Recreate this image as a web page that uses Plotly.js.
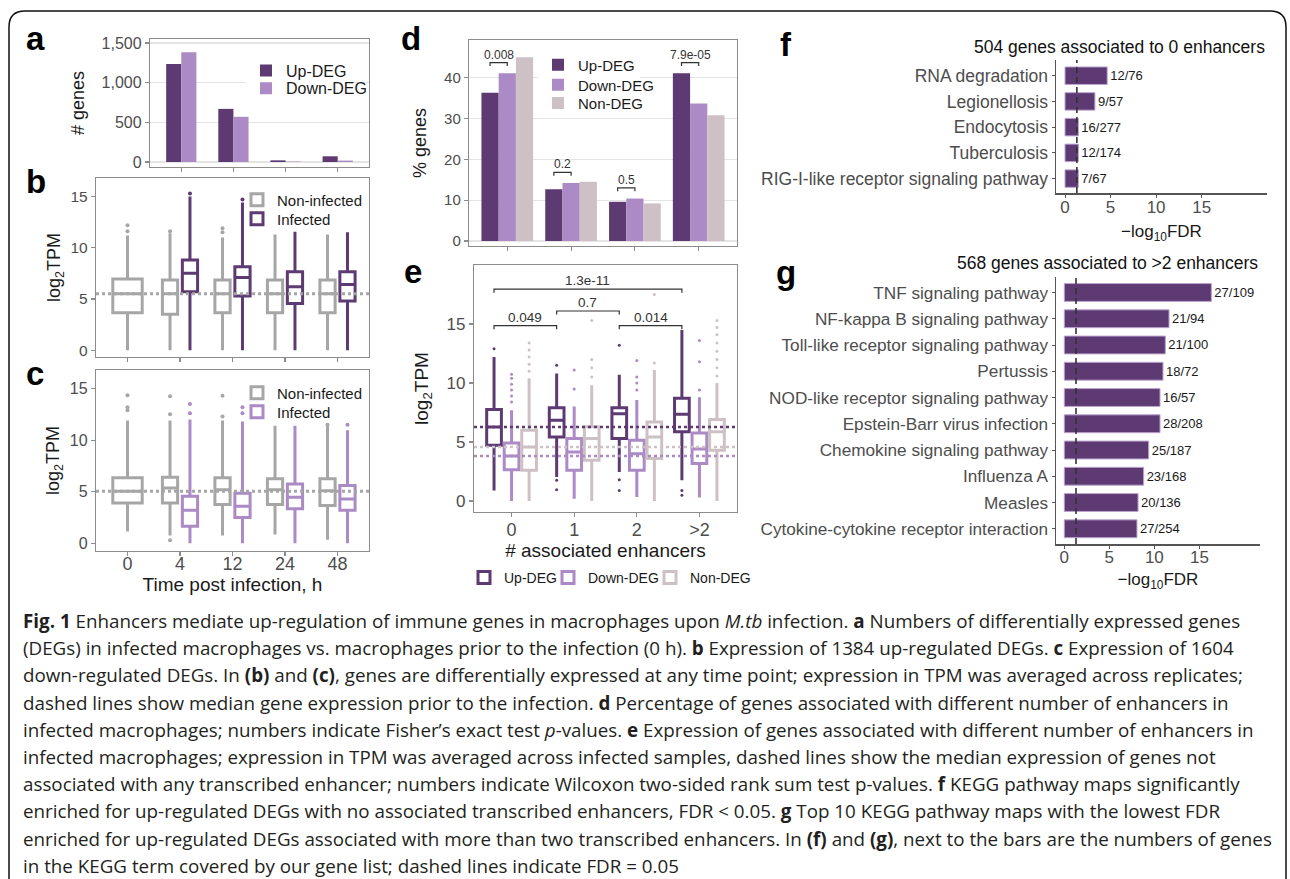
<!DOCTYPE html>
<html>
<head>
<meta charset="utf-8">
<script src="https://cdn.plot.ly/plotly-3.0.1.min.js"></script>
<style>html,body{margin:0;padding:0;background:#fff;}</style>
</head>
<body>
<div id="chart" style="width:1290px;height:879px;"></div>
<script>
// ---------------- DATA ----------------
// panel a: number of DEGs per time point (h)
const timeLabels = ['0', '4', '12', '24', '48'];
const degTimeLabels = ['4', '12', '24', '48'];
const upDegCounts = [1235, 670, 21, 72];
const downDegCounts = [1385, 570, 6, 18];

// panel b: expression (log2 TPM) of up-regulated DEGs
const bNonQ1 = [3.65, 3.5, 3.65, 3.65, 3.65];
const bNonMedian = [5.5, 5.5, 5.5, 5.5, 5.5];
const bNonQ3 = [6.95, 6.85, 6.85, 6.85, 6.85];
const bNonLow = [0, 0, 0, 0, 0];
const bNonHigh = [11.2, 11.4, 11.0, 11.3, 11.3];
const bNonOutliers = [[11.6, 12.2], [11.6], [11.5, 11.9], [], []];
const bInfQ1 = [5.7, 5.3, 4.55, 4.8];
const bInfMedian = [7.5, 7.1, 6.2, 6.4];
const bInfQ3 = [8.8, 8.15, 7.65, 7.65];
const bInfLow = [0, 0, 0, 0];
const bInfHigh = [15.0, 14.4, 11.55, 11.5];
const bInfOutliers = [[15.3], [14.7], [], []];

// panel c: expression (log2 TPM) of down-regulated DEGs
const cNonQ1 = [3.9, 3.9, 3.75, 3.75, 3.65];
const cNonMedian = [5.05, 5.35, 5.2, 5.2, 5.1];
const cNonQ3 = [6.35, 6.4, 6.35, 6.25, 6.25];
const cNonLow = [1.15, 0.75, 0.75, 0.85, 0.35];
const cNonHigh = [11.9, 11.9, 11.9, 11.4, 11.4];
const cNonOutliers = [[12.9, 13.2, 14.35], [12.5, 14.25, 0.3], [12.3, 14.3], [], [11.5]];
const cInfQ1 = [1.65, 2.5, 3.35, 3.2];
const cInfMedian = [3.2, 3.6, 4.45, 4.3];
const cInfQ3 = [4.55, 4.85, 5.75, 5.6];
const cInfLow = [0, 0, 0, 0];
const cInfHigh = [12.0, 11.8, 11.4, 10.95];
const cInfOutliers = [[12.6, 13.5], [12.6, 13.2], [], [11.5]];

// panel d: % genes by number of associated enhancers
const enhancerCats = ['0', '1', '2', '>2'];
const dUp = [36.3, 12.7, 9.6, 41.1];
const dDown = [41.1, 14.2, 10.4, 33.7];
const dNon = [45.0, 14.5, 9.2, 30.8];
const dPvals = ['0.008', '0.2', '0.5', '7.9e-05'];

// panel e: expression by number of associated enhancers
const eUpQ1 = [4.73, 5.43, 5.3, 5.86];
const eUpMedian = [6.28, 6.85, 7.4, 7.35];
const eUpQ3 = [7.75, 7.9, 7.9, 8.7];
const eUpLow = [0.9, 2.04, 2.46, 1.75];
const eUpHigh = [12.2, 10.8, 10.7, 14.5];
const eUpOutliers = [[12.9], [1.75, 0.96, 11.5], [13.2, 1.8, 0.9], [0.48, 0.9]];
const eDownQ1 = [2.66, 2.6, 2.6, 3.17];
const eDownMedian = [3.82, 4.15, 4.0, 4.4];
const eDownQ3 = [4.92, 5.3, 5.15, 5.77];
const eDownLow = [0, 0.2, 0.34, 0.3];
const eDownHigh = [7.7, 8.0, 8.55, 8.8];
const eDownOutliers = [[8.4, 8.9, 9.4, 9.9, 10.4, 10.75], [9.5, 11.1], [9.4, 10.0, 10.5, 11.9], [9.4, 11.8, 13.6]];
const eNonQ1 = [2.6, 3.45, 3.6, 4.3];
const eNonMedian = [4.58, 5.3, 5.43, 5.86];
const eNonQ3 = [6.0, 6.3, 6.7, 6.9];
const eNonLow = [0, 0, 0, 0];
const eNonHigh = [10.4, 9.8, 11.1, 10.0];
const eNonOutliers = [[11.0, 11.6, 12.2, 12.8, 13.4], [10.5, 11.3, 12.0, 15.3], [11.7, 17.5], [10.6, 11.3, 12.0, 12.7, 13.4, 14.1, 14.7, 15.3]];
const ePvalFrom = [0, 1, 2, 0];
const ePvalTo = [1, 2, 3, 3];
const ePvals = ['0.049', '0.7', '0.014', '1.3e-11'];

// panel f / g: KEGG enrichment
const fdrThreshold = 0.05;
const fTerms = ['RNA degradation', 'Legionellosis', 'Endocytosis', 'Tuberculosis', 'RIG-I-like receptor signaling pathway'];
const fScore = [4.63, 3.28, 1.46, 1.46, 1.46];
const fCounts = ['12/76', '9/57', '16/277', '12/174', '7/67'];
const gTerms = ['TNF signaling pathway', 'NF-kappa B signaling pathway', 'Toll-like receptor signaling pathway', 'Pertussis',
  'NOD-like receptor signaling pathway', 'Epstein-Barr virus infection', 'Chemokine signaling pathway', 'Influenza A',
  'Measles', 'Cytokine-cytokine receptor interaction'];
const gScore = [16.33, 11.63, 11.22, 10.96, 10.63, 10.63, 9.37, 8.81, 8.19, 8.07];
const gCounts = ['27/109', '21/94', '21/100', '18/72', '16/57', '28/208', '25/187', '23/168', '20/136', '27/254'];

const captionLines = [
  '<b>Fig. 1</b> Enhancers mediate up-regulation of immune genes in macrophages upon <i>M.tb</i> infection. <b>a</b> Numbers of differentially expressed genes',
  '(DEGs) in infected macrophages vs. macrophages prior to the infection (0 h). <b>b</b> Expression of 1384 up-regulated DEGs. <b>c</b> Expression of 1604',
  'down-regulated DEGs. In <b>(b)</b> and <b>(c)</b>, genes are differentially expressed at any time point; expression in TPM was averaged across replicates;',
  'dashed lines show median gene expression prior to the infection. <b>d</b> Percentage of genes associated with different number of enhancers in',
  'infected macrophages; numbers indicate Fisher’s exact test <i>p</i>-values. <b>e</b> Expression of genes associated with different number of enhancers in',
  'infected macrophages; expression in TPM was averaged across infected samples, dashed lines show the median expression of genes not',
  'associated with any transcribed enhancer; numbers indicate Wilcoxon two-sided rank sum test p-values. <b>f</b> KEGG pathway maps significantly',
  'enriched for up-regulated DEGs with no associated transcribed enhancers, FDR &lt; 0.05. <b>g</b> Top 10 KEGG pathway maps with the lowest FDR',
  'enriched for up-regulated DEGs associated with more than two transcribed enhancers. In <b>(f)</b> and <b>(g)</b>, next to the bars are the numbers of genes',
  'in the KEGG term covered by our gene list; dashed lines indicate FDR = 0.05'
];

// ---------------- STYLE / LAYOUT HELPERS ----------------
const W = 1290, H = 879;
const X = v => v / W;
const Y = v => 1 - v / H;
const FONT = 'Liberation Sans, Arial, Helvetica, sans-serif';
const CAPFONT = 'Open Sans, Noto Sans, sans-serif';
const upCol = '#5e3a73', downCol = '#ab8ac5', nonDegCol = '#cdc1c5', greyCol = '#a6a6a6';
const tickCol = '#4d4d4d', titleCol = '#1a1a1a', frameCol = '#8c8c8c';

const traces = [];

function boxTrace(pos, q1, med, q3, lo, hi, color, width, ax, extra) {
  return Object.assign({
    type: 'box', orientation: 'v', x: pos, q1: q1, median: med, q3: q3,
    lowerfence: lo, upperfence: hi, width: width, fillcolor: '#ffffff',
    line: { color: color, width: 3 }, whiskerwidth: 0, boxpoints: false,
    xaxis: 'x' + ax, yaxis: 'y' + ax, hoverinfo: 'skip', showlegend: false
  }, extra || {});
}
function outlierTrace(pos, lists, color, size, ax) {
  const xs = [], ys = [];
  lists.forEach((l, i) => l.forEach(v => { xs.push(pos[i]); ys.push(v); }));
  return { type: 'scatter', mode: 'markers', x: xs, y: ys, marker: { color: color, size: size },
    xaxis: 'x' + ax, yaxis: 'y' + ax, showlegend: false, hoverinfo: 'skip', cliponaxis: false };
}

// ---- a ----
const aPos = degTimeLabels.map((t, i) => i + 1);
traces.push({ type: 'bar', name: 'Up-DEG', x: aPos, y: upDegCounts, width: 0.29, offset: -0.29,
  marker: { color: upCol }, xaxis: 'x', yaxis: 'y', legend: 'legend', hoverinfo: 'skip' });
traces.push({ type: 'bar', name: 'Down-DEG', x: aPos, y: downDegCounts, width: 0.29, offset: 0,
  marker: { color: downCol }, xaxis: 'x', yaxis: 'y', legend: 'legend2', hoverinfo: 'skip' });

// ---- b & c ----
function timeBoxes(ax, nq1, nmed, nq3, nlo, nhi, nout, iq1, imed, iq3, ilo, ihi, iout, infCol, legA, legB) {
  const d = 0.19;
  const nonPos = timeLabels.map((t, i) => i === 0 ? 0 : i - d);
  const infPos = degTimeLabels.map((t, i) => i + 1 + d);
  traces.push(boxTrace([0], nq1.slice(0, 1), nmed.slice(0, 1), nq3.slice(0, 1), nlo.slice(0, 1), nhi.slice(0, 1), greyCol, 0.56, ax));
  traces.push(boxTrace(nonPos.slice(1), nq1.slice(1), nmed.slice(1), nq3.slice(1), nlo.slice(1), nhi.slice(1), greyCol, 0.29, ax,
    { name: 'Non-infected', showlegend: true, legend: legA }));
  traces.push(boxTrace(infPos, iq1, imed, iq3, ilo, ihi, infCol, 0.29, ax,
    { name: 'Infected', showlegend: true, legend: legB }));
  traces.push(outlierTrace(nonPos, nout, greyCol, 4, ax));
  traces.push(outlierTrace(infPos, iout, infCol, 4, ax));
}
timeBoxes('2', bNonQ1, bNonMedian, bNonQ3, bNonLow, bNonHigh, bNonOutliers, bInfQ1, bInfMedian, bInfQ3, bInfLow, bInfHigh, bInfOutliers, upCol, 'legend3', 'legend4');
timeBoxes('3', cNonQ1, cNonMedian, cNonQ3, cNonLow, cNonHigh, cNonOutliers, cInfQ1, cInfMedian, cInfQ3, cInfLow, cInfHigh, cInfOutliers, downCol, 'legend5', 'legend6');

// ---- d ----
const dPos = enhancerCats.map((c, i) => i);
[[dUp, upCol, 'Up-DEG', -0.405, 'legend7'], [dDown, downCol, 'Down-DEG', -0.135, 'legend8'], [dNon, nonDegCol, 'Non-DEG', 0.135, 'legend9']]
  .forEach(s => traces.push({ type: 'bar', name: s[2], x: dPos, y: s[0], width: 0.27, offset: s[3],
    marker: { color: s[1] }, xaxis: 'x4', yaxis: 'y4', legend: s[4], hoverinfo: 'skip' }));

// ---- e ----
const eOff = 0.28;
const eSets = [
  [eUpQ1, eUpMedian, eUpQ3, eUpLow, eUpHigh, eUpOutliers, upCol, 'Up-DEG', -eOff, 'legend10'],
  [eDownQ1, eDownMedian, eDownQ3, eDownLow, eDownHigh, eDownOutliers, downCol, 'Down-DEG', 0, 'legend11'],
  [eNonQ1, eNonMedian, eNonQ3, eNonLow, eNonHigh, eNonOutliers, nonDegCol, 'Non-DEG', eOff, 'legend12']
];
eSets.forEach(s => {
  const pos = enhancerCats.map((c, i) => i + s[8]);
  traces.push(boxTrace(pos, s[0], s[1], s[2], s[3], s[4], s[6], 0.235, '5', { name: s[7], showlegend: true, legend: s[9] }));
  traces.push(outlierTrace(pos, s[5], s[6], 3, '5'));
});

// ---- f & g ----
[[fTerms, fScore, fCounts, '6'], [gTerms, gScore, gCounts, '7']].forEach(s => traces.push({
  type: 'bar', orientation: 'h', y: s[0], x: s[1], text: s[2], textposition: 'outside', constraintext: 'none',
  textfont: { family: FONT, size: 13, color: titleCol }, cliponaxis: false, width: 0.68,
  marker: { color: upCol, line: { color: '#bba4cf', width: 1 } }, xaxis: 'x' + s[3], yaxis: 'y' + s[3],
  showlegend: false, hoverinfo: 'skip'
}));

// ---------------- AXES ----------------
function framed(extra) {
  return Object.assign({ showline: true, mirror: true, linecolor: frameCol, linewidth: 1.2, ticks: 'outside', ticklen: 4,
    tickwidth: 1.1, tickcolor: frameCol, showgrid: false, zeroline: false, fixedrange: true,
    tickfont: { family: FONT, size: 15, color: tickCol } }, extra);
}
function classic(extra) {
  return Object.assign({ showline: true, mirror: false, linecolor: '#555555', linewidth: 1.5, ticks: 'outside', ticklen: 3,
    tickwidth: 1, tickcolor: '#555555', showgrid: false, zeroline: false, fixedrange: true,
    tickfont: { family: FONT, size: 17, color: tickCol } }, extra);
}
const ttl = (text, size, standoff) => ({ text: text, font: { family: FONT, size: size, color: titleCol }, standoff: standoff });

const layout = {
  width: W, height: H, autosize: false, margin: { l: 0, r: 0, t: 0, b: 0, pad: 0 },
  paper_bgcolor: '#ffffff', plot_bgcolor: '#ffffff', font: { family: FONT, color: tickCol },
  barmode: 'overlay', boxmode: 'overlay', hovermode: false, showlegend: true,
  // a
  xaxis: framed({ domain: [X(150), X(369)], range: [0.4, 4.6], tickvals: aPos, showticklabels: false, anchor: 'y' }),
  yaxis: framed({ domain: [Y(167), Y(39)], range: [-63, 1551], tickvals: [0, 500, 1000, 1500], tickformat: ',',
    showgrid: true, gridcolor: '#e4e4e4', gridwidth: 1.2, tickfont: { family: FONT, size: 16, color: tickCol },
    title: ttl('# genes', 18, 12), anchor: 'x' }),
  // b
  xaxis2: framed({ domain: [X(96), X(369)], range: [-0.6, 4.6], tickvals: [0, 1, 2, 3, 4], showticklabels: false, anchor: 'y2' }),
  yaxis2: framed({ domain: [Y(357), Y(178)], range: [-0.66, 16.8], tickvals: [0, 5, 10, 15],
    tickfont: { family: FONT, size: 15.5, color: tickCol }, title: ttl('log<sub>2</sub>TPM', 18, 5), anchor: 'x2' }),
  // c
  xaxis3: framed({ domain: [X(96), X(369)], range: [-0.6, 4.6], tickvals: [0, 1, 2, 3, 4], ticktext: timeLabels,
    ticklabelstandoff: -8, tickfont: { family: FONT, size: 18, color: tickCol },
    title: ttl('Time post infection, h', 19, 0), anchor: 'y3' }),
  yaxis3: framed({ domain: [Y(551), Y(370)], range: [-0.75, 16.8], tickvals: [0, 5, 10, 15],
    tickfont: { family: FONT, size: 16, color: tickCol }, title: ttl('log<sub>2</sub>TPM', 18, 5), anchor: 'x3' }),
  // d
  xaxis4: framed({ domain: [X(469), X(737)], range: [-0.6, 3.6], tickvals: dPos, showticklabels: false, anchor: 'y4' }),
  yaxis4: framed({ domain: [Y(246), Y(40)], range: [-1.23, 49.25], tickvals: [0, 10, 20, 30, 40],
    showgrid: true, gridcolor: '#e4e4e4', gridwidth: 1.2, title: ttl('% genes', 18, 12), anchor: 'x4' }),
  // e
  xaxis5: framed({ domain: [X(474), X(737)], range: [-0.6, 3.6], tickvals: dPos, ticktext: enhancerCats,
    ticklabelstandoff: -3, tickfont: { family: FONT, size: 18, color: tickCol },
    title: ttl('# associated enhancers', 19, 0), anchor: 'y5' }),
  yaxis5: framed({ domain: [Y(512), Y(265)], range: [-0.93, 20], tickvals: [0, 5, 10, 15],
    tickfont: { family: FONT, size: 17, color: tickCol }, title: ttl('log<sub>2</sub>TPM', 19, 12), anchor: 'x5' }),
  // f
  xaxis6: classic({ domain: [X(1056), X(1267)], range: [-0.99, 22.17], tickvals: [0, 5, 10, 15], ticklabelstandoff: -5,
    title: ttl('\u2212log<sub>10</sub>FDR', 17, 9), anchor: 'y6' }),
  yaxis6: classic({ domain: [Y(193), Y(60)], type: 'category', range: [4.56, -0.61],
    tickfont: { family: FONT, size: 17.5, color: tickCol }, anchor: 'x6' }),
  // g
  xaxis7: classic({ domain: [X(1056), X(1260)], range: [-0.92, 21.73], tickvals: [0, 5, 10, 15], ticklabelstandoff: -6,
    title: ttl('\u2212log<sub>10</sub>FDR', 17, 7), anchor: 'y7' }),
  yaxis7: classic({ domain: [Y(544), Y(277)], type: 'category', range: [9.58, -0.59],
    tickfont: { family: FONT, size: 17.2, color: tickCol }, anchor: 'x7' })
};

function leg(xpx, ypx, size, bg) {
  return { x: X(xpx), y: Y(ypx), xanchor: 'left', yanchor: 'middle', orientation: 'v',
    bgcolor: bg || 'rgba(0,0,0,0)', borderwidth: 0, font: { family: FONT, size: size, color: titleCol },
    itemclick: false, itemdoubleclick: false };
}
layout.legend = leg(246, 70.7, 16, '#ffffff');
layout.legend2 = leg(246, 88.3, 16);
layout.legend3 = leg(237, 200, 15);
layout.legend4 = leg(237, 219, 15);
layout.legend5 = leg(237, 393, 15);
layout.legend6 = leg(237, 412, 15);
layout.legend7 = leg(538, 65, 15, '#ffffff');
layout.legend8 = leg(538, 85, 15);
layout.legend9 = leg(538, 103.3, 15);
layout.legend10 = leg(464, 578, 14);
layout.legend11 = leg(548, 578, 14);
layout.legend12 = leg(650, 578, 14);

// ---------------- SHAPES ----------------
const shapes = [];
// outer figure frame
shapes.push({ type: 'path', xref: 'paper', yref: 'paper', layer: 'above',
  path: `M ${X(9)},${Y(900)} L ${X(9)},${Y(27)} Q ${X(9)},${Y(11)} ${X(25)},${Y(11)} L ${X(1270)},${Y(11)} Q ${X(1286)},${Y(11)} ${X(1286)},${Y(27)} L ${X(1286)},${Y(900)}`,
  line: { color: '#111111', width: 1.5 } });
// median reference lines (b, c)
const hline = (ax, y, color, width, dash) => ({ type: 'line', xref: 'x' + ax + ' domain', x0: 0, x1: 1, yref: 'y' + ax, y0: y, y1: y,
  line: { color: color, width: width, dash: dash }, layer: 'above' });
shapes.push(hline('2', bNonMedian[0], greyCol, 3, '3px,3px'));
shapes.push(hline('3', cNonMedian[0], greyCol, 3, '3px,3px'));
// e: medians of genes without enhancers
shapes.push(hline('5', eUpMedian[0], upCol, 2.5, '3px,3px'));
shapes.push(hline('5', eNonMedian[0], nonDegCol, 2.5, '3px,3px'));
shapes.push(hline('5', eDownMedian[0], downCol, 2.5, '3px,3px'));
// f, g FDR threshold
const thr = -Math.log10(fdrThreshold);
['6', '7'].forEach(ax => shapes.push({ type: 'line', xref: 'x' + ax, x0: thr, x1: thr, yref: 'y' + ax + ' domain', y0: 0, y1: 1,
  line: { color: '#333333', width: 1.6, dash: '6px,4px' }, layer: 'above' }));

const annotations = [];
// d brackets
dPvals.forEach((p, i) => {
  const x0 = i - 0.27, x1 = i, y = Math.max(dUp[i], dDown[i]) + 2.6, t = 0.8;
  shapes.push({ type: 'path', xref: 'x4', yref: 'y4', path: `M ${x0},${y - t} L ${x0},${y} L ${x1},${y} L ${x1},${y - t}`,
    line: { color: '#333333', width: 1.2 } });
  annotations.push({ xref: 'x4', yref: 'y4', x: (x0 + x1) / 2, y: y, yanchor: 'bottom', text: p, showarrow: false,
    font: { family: FONT, size: 12, color: '#333333' }, yshift: -1 });
});
// e brackets
const eBracketY = [14.86, 16.1, 14.86, 17.95];
ePvals.forEach((p, i) => {
  const x0 = ePvalFrom[i] - eOff, x1 = ePvalTo[i] - eOff, y = eBracketY[i], t = 0.3;
  shapes.push({ type: 'path', xref: 'x5', yref: 'y5', path: `M ${x0},${y - t} L ${x0},${y} L ${x1},${y} L ${x1},${y - t}`,
    line: { color: '#333333', width: 1.2 } });
  annotations.push({ xref: 'x5', yref: 'y5', x: (x0 + x1) / 2, y: y, yanchor: 'bottom', text: p, showarrow: false,
    font: { family: FONT, size: 13.5, color: '#333333' }, yshift: -1 });
});

// panel letters
[['a', 35, 39], ['b', 36, 181], ['c', 35, 374], ['d', 411, 38], ['e', 413, 271], ['f', 786, 45], ['g', 786, 273]]
  .forEach(l => annotations.push({ xref: 'paper', yref: 'paper', x: X(l[1]), y: Y(l[2]), xanchor: 'center', yanchor: 'middle',
    text: '<b>' + l[0] + '</b>', showarrow: false, font: { family: FONT, size: 33, color: '#000000' } }));

// f, g titles
annotations.push({ xref: 'paper', yref: 'paper', x: X(1267), y: Y(46.7), xanchor: 'right', yanchor: 'middle', showarrow: false,
  text: '504 genes associated to 0 enhancers', font: { family: FONT, size: 17.5, color: '#111111' } });
annotations.push({ xref: 'paper', yref: 'paper', x: X(1260), y: Y(263.3), xanchor: 'right', yanchor: 'middle', showarrow: false,
  text: '568 genes associated to &gt;2 enhancers', font: { family: FONT, size: 17.5, color: '#111111' } });

// caption
captionLines.forEach((line, i) => annotations.push({ xref: 'paper', yref: 'paper', x: X(21), y: Y(621 + i * 27.2),
  xanchor: 'left', yanchor: 'middle', align: 'left', showarrow: false, text: line,
  font: { family: CAPFONT, size: 18.8, color: '#231f20' } }));

layout.shapes = shapes;
layout.annotations = annotations;

Plotly.newPlot('chart', traces, layout, { staticPlot: true, displayModeBar: false, responsive: false });
</script>
</body>
</html>
